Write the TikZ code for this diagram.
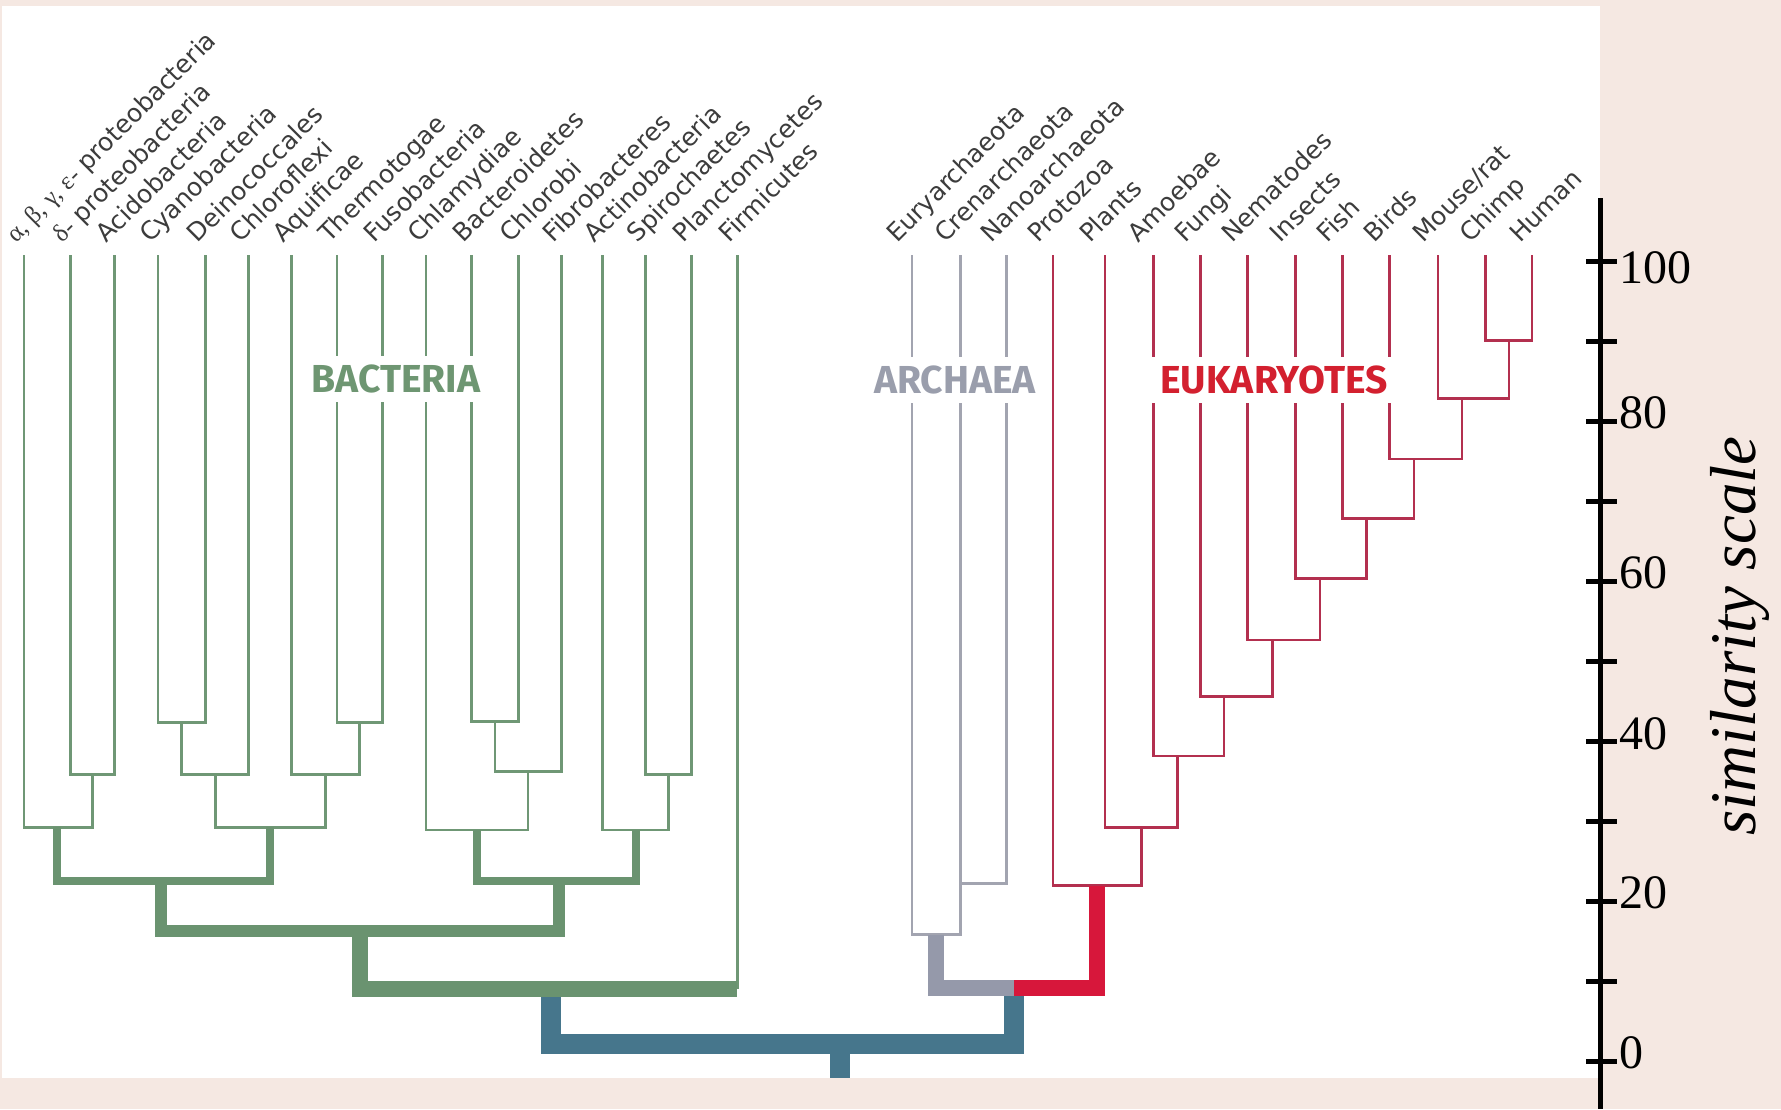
\documentclass[tikz,border=0pt]{standalone}
\usepackage{fontspec}
\usetikzlibrary{calc}
\newfontfamily\taxfont{DejaVu Sans}
\newfontfamily\greekfont{Liberation Serif}
\newfontfamily\grpfont{Fira Sans}
\newfontfamily\axisfont{Liberation Serif}

\definecolor{paper}{HTML}{F5E8E2}
\definecolor{labelgray}{HTML}{3C3C3C}
\definecolor{bgreen}{HTML}{6F9775}
\definecolor{bgreendk}{HTML}{6A9370}
\definecolor{agray}{HTML}{A2A4B0}
\definecolor{agraydk}{HTML}{9599AA}
\definecolor{ered}{HTML}{B3304F}
\definecolor{ereddk}{HTML}{D7173B}
\definecolor{rootblue}{HTML}{46768C}
\definecolor{bacttext}{HTML}{6E9672}
\definecolor{archtext}{HTML}{9A9EAC}
\definecolor{euktext}{HTML}{D3202F}

\tikzset{
  taxon/.style={rotate=45, anchor=base west, inner sep=0pt, text=labelgray,
    font=\taxfont\fontsize{25}{30}\selectfont},
  bthin/.style={draw=bgreen, line width=2.8pt},
  blvA/.style={draw=bgreendk, line width=8pt},
  blvB/.style={draw=bgreendk, line width=12.5pt},
  blvC/.style={draw=bgreendk, line width=16pt},
  athin/.style={draw=agray, line width=2.8pt},
  athick/.style={draw=agraydk, line width=16pt},
  ethin/.style={draw=ered, line width=2.8pt},
  ethick/.style={draw=ereddk, line width=16pt},
  rootline/.style={draw=rootblue, line width=20pt},
  grouplabel/.style={fill=white, inner xsep=14pt, inner ysep=9pt,
    font=\grpfont\bfseries\fontsize{39}{40}\selectfont},
  axisline/.style={draw=black, line width=5pt},
  tickline/.style={draw=black, line width=5pt},
  numlabel/.style={anchor=west, inner sep=0pt, font=\axisfont\fontsize{48}{50}\selectfont},
}

\begin{document}
\begin{tikzpicture}[x=1pt, y=-1pt, line join=miter]
\useasboundingbox (0,0) rectangle (1781,1109);
\fill[paper] (0,0) rectangle (1781,1109);
\fill[white] (2,6) rectangle (1600,1078);

% ---------- leaf tips ----------
\coordinate (alpha) at (24,255);
\coordinate (delta) at (70.6,255);
\coordinate (acido) at (114.8,255);
\coordinate (cyano) at (158,255);
\coordinate (deino) at (205.5,255);
\coordinate (chlflex) at (248.6,255);
\coordinate (aquif) at (291.6,255);
\coordinate (thermo) at (337,255);
\coordinate (fuso) at (382.3,255);
\coordinate (chlamy) at (426,255);
\coordinate (bactero) at (471.3,255);
\coordinate (chlorobi) at (518.4,255);
\coordinate (fibro) at (561.4,255);
\coordinate (actino) at (602.8,255);
\coordinate (spiro) at (645.8,255);
\coordinate (plancto) at (691.7,255);
\coordinate (firmi) at (737.1,255);

\coordinate (eury) at (912,255);
\coordinate (cren) at (960.3,255);
\coordinate (nano) at (1006.3,255);

\coordinate (protozoa) at (1053,255);
\coordinate (plants) at (1105,255);
\coordinate (amoebae) at (1153.2,255);
\coordinate (fungi) at (1200.5,255);
\coordinate (nematodes) at (1247.3,255);
\coordinate (insects) at (1295.5,255);
\coordinate (fish) at (1342.8,255);
\coordinate (birds) at (1389.6,255);
\coordinate (mouse) at (1437.9,255);
\coordinate (chimp) at (1485.1,255);
\coordinate (human) at (1532,255);

% ---------- branch points ----------
\coordinate (c1) at (181.7,722.7);
\coordinate (c2) at (359.7,722.7);
\coordinate (c3) at (494.9,721.5);
\coordinate (d1) at (92.7,774.4);
\coordinate (d2) at (215.1,774.4);
\coordinate (d3) at (325.6,774.4);
\coordinate (d4) at (528,771.7);
\coordinate (d5) at (668.8,774.4);
\coordinate (bA) at (57,827.2);
\coordinate (bB) at (270.3,827.2);
\coordinate (bC) at (477,830);
\coordinate (bD) at (635.8,830);
\coordinate (bE) at (161,881);
\coordinate (bF) at (559,881);
\coordinate (bG) at (360,931);
\coordinate (bH) at (551,989);
\coordinate (firmb) at (737.1,989);

\coordinate (cn) at (960.3,883.7);
\coordinate (ar) at (936,934.8);

\coordinate (k10) at (1509,340.8);
\coordinate (k9) at (1462,398.8);
\coordinate (k8) at (1414,459);
\coordinate (k7) at (1366.5,518.4);
\coordinate (k6) at (1320,578.8);
\coordinate (k5) at (1272.6,640);
\coordinate (k4) at (1224,696.7);
\coordinate (k3) at (1177.5,756);
\coordinate (k2) at (1141.7,827.8);
\coordinate (k1) at (1097,885.7);

\coordinate (ae) at (1014,988);
\coordinate (root) at (840,1044);
\coordinate (rootend) at (840,1078);

% ---------- root ----------
\draw[rootline] (bH) |- (root) -| (ae);
\draw[rootline] (root) -- (rootend);

% ---------- bacteria ----------
\draw[bthin] (cyano) |- (c1) -| (deino);
\draw[bthin] (thermo) |- (c2) -| (fuso);
\draw[bthin] (bactero) |- (c3) -| (chlorobi);
\draw[bthin] (delta) |- (d1) -| (acido);
\draw[bthin] (c1) |- (d2) -| (chlflex);
\draw[bthin] (aquif) |- (d3) -| (c2);
\draw[bthin] (c3) |- (d4) -| (fibro);
\draw[bthin] (spiro) |- (d5) -| (plancto);
\draw[bthin] (alpha) |- (bA) -| (d1);
\draw[bthin] (d2) |- (bB) -| (d3);
\draw[bthin] (chlamy) |- (bC) -| (d4);
\draw[bthin] (actino) |- (bD) -| (d5);
\draw[bthin] (firmi) -- (firmb);
\draw[blvA] (bA) |- (bE) -| (bB);
\draw[blvA] (bC) |- (bF) -| (bD);
\draw[blvB] (bE) |- (bG) -| (bF);
\draw[blvC] (bG) |- (bH) -- (firmb);

% ---------- archaea ----------
\draw[athin] (nano) |- (cn);
\draw[athin] (eury) |- (ar) -| (cren);
\draw[athick] (ar) |- (ae);

% ---------- eukaryotes ----------
\draw[ethin] (chimp) |- (k10) -| (human);
\draw[ethin] (mouse) |- (k9) -| (k10);
\draw[ethin] (birds) |- (k8) -| (k9);
\draw[ethin] (fish) |- (k7) -| (k8);
\draw[ethin] (insects) |- (k6) -| (k7);
\draw[ethin] (nematodes) |- (k5) -| (k6);
\draw[ethin] (fungi) |- (k4) -| (k5);
\draw[ethin] (amoebae) |- (k3) -| (k4);
\draw[ethin] (plants) |- (k2) -| (k3);
\draw[ethin] (protozoa) |- (k1) -| (k2);
\draw[ethick] (k1) |- (ae);

% ---------- group names ----------
\node[grouplabel, text=bacttext] (gbact) at (396,379) {BACTERIA};
\node[grouplabel, text=archtext] (garch) at (955,380) {ARCHAEA};
\node[grouplabel, text=euktext] (geuk) at (1274,380) {EUKARYOTES};

% ---------- taxon names ----------
\node[taxon] (t-alpha) at ($(alpha)+(-8,-11)$) {{\greekfont α, β, γ, ε-} proteobacteria};
\node[taxon] (t-delta) at ($(delta)+(-8,-11)$) {{\greekfont δ-} proteobacteria};
\node[taxon] (t-acido) at ($(acido)+(-8,-11)$) {Acidobacteria};
\node[taxon] (t-cyano) at ($(cyano)+(-8,-11)$) {Cyanobacteria};
\node[taxon] (t-deino) at ($(deino)+(-8,-11)$) {Deinococcales};
\node[taxon] (t-chlflex) at ($(chlflex)+(-8,-11)$) {Chloroflexi};
\node[taxon] (t-aquif) at ($(aquif)+(-8,-11)$) {Aquificae};
\node[taxon] (t-thermo) at ($(thermo)+(-8,-11)$) {Thermotogae};
\node[taxon] (t-fuso) at ($(fuso)+(-8,-11)$) {Fusobacteria};
\node[taxon] (t-chlamy) at ($(chlamy)+(-8,-11)$) {Chlamydiae};
\node[taxon] (t-bactero) at ($(bactero)+(-8,-11)$) {Bacteroidetes};
\node[taxon] (t-chlorobi) at ($(chlorobi)+(-8,-11)$) {Chlorobi};
\node[taxon] (t-fibro) at ($(fibro)+(-8,-11)$) {Fibrobacteres};
\node[taxon] (t-actino) at ($(actino)+(-8,-11)$) {Actinobacteria};
\node[taxon] (t-spiro) at ($(spiro)+(-8,-11)$) {Spirochaetes};
\node[taxon] (t-plancto) at ($(plancto)+(-8,-11)$) {Planctomycetes};
\node[taxon] (t-firmi) at ($(firmi)+(-8,-11)$) {Firmicutes};

\node[taxon] (t-eury) at ($(eury)+(-15,-11)$) {Euryarchaeota};
\node[taxon] (t-cren) at ($(cren)+(-15,-11)$) {Crenarchaeota};
\node[taxon] (t-nano) at ($(nano)+(-15,-11)$) {Nanoarchaeota};

\node[taxon] (t-protozoa) at ($(protozoa)+(-15,-11)$) {Protozoa};
\node[taxon] (t-plants) at ($(plants)+(-15,-11)$) {Plants};
\node[taxon] (t-amoebae) at ($(amoebae)+(-15,-11)$) {Amoebae};
\node[taxon] (t-fungi) at ($(fungi)+(-15,-11)$) {Fungi};
\node[taxon] (t-nematodes) at ($(nematodes)+(-15,-11)$) {Nematodes};
\node[taxon] (t-insects) at ($(insects)+(-15,-11)$) {Insects};
\node[taxon] (t-fish) at ($(fish)+(-15,-11)$) {Fish};
\node[taxon] (t-birds) at ($(birds)+(-15,-11)$) {Birds};
\node[taxon] (t-mouse) at ($(mouse)+(-15,-11)$) {Mouse/rat};
\node[taxon] (t-chimp) at ($(chimp)+(-15,-11)$) {Chimp};
\node[taxon] (t-human) at ($(human)+(-12,-11)$) {Human};

% ---------- similarity scale ----------
\coordinate (axtop) at (1600,198);
\coordinate (axbot) at (1600,1109);
\draw[axisline] (axtop) -- (axbot);
\foreach \v in {0,...,10} {
  \coordinate (tk\v) at (1600,{1061.7-80*\v});
  \draw[tickline] ($(tk\v)+(-14,0)$) -- ($(tk\v)+(17,0)$);
}
\node[numlabel] (n100) at (1619,268) {100};
\node[numlabel] (n80) at (1619,413) {80};
\node[numlabel] (n60) at (1619,573) {60};
\node[numlabel] (n40) at (1619,734) {40};
\node[numlabel] (n20) at (1619,892.5) {20};
\node[numlabel] (n0) at (1619,1053) {0};
\node[rotate=90, anchor=base, inner sep=0pt,
      font=\axisfont\itshape\fontsize{65}{70}\selectfont] (simlab) at (1755,636) {similarity scale};
\end{tikzpicture}
\end{document}
